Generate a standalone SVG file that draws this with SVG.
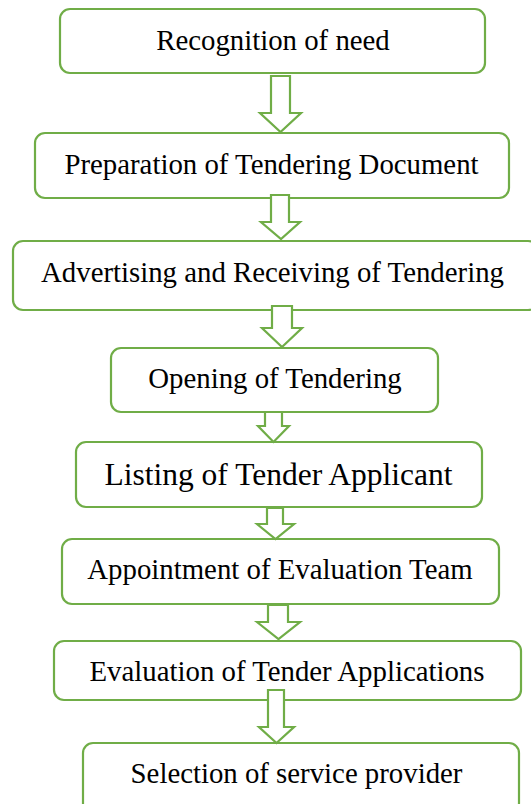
<svg xmlns="http://www.w3.org/2000/svg" width="531" height="804" viewBox="0 0 531 804">
<style>
.box{fill:#fff;stroke:#70AD47;stroke-width:2.2}
.arr{fill:#fff;stroke:#70AD47;stroke-width:2.2;stroke-linejoin:miter}
.t{font-family:'Liberation Serif',Tinos,'DejaVu Serif',serif;font-size:28.8px;fill:#000;text-anchor:middle}
.big{font-size:31.5px}
</style>
<rect width="531" height="804" fill="#fff"/>
<g id="n1"><rect class="box" x="60" y="9" width="425" height="64" rx="10"/><text class="t" x="273" y="50">Recognition of need</text></g>
<g id="n2"><rect class="box" x="35" y="133" width="474" height="65" rx="10"/><text class="t" x="271.5" y="174">Preparation of Tendering Document</text></g>
<g id="n3"><rect class="box" x="13" y="241" width="525" height="69" rx="10"/><text class="t" x="272.5" y="282">Advertising and Receiving of Tendering</text></g>
<g id="n4"><rect class="box" x="111" y="348" width="327" height="64" rx="10"/><text class="t" x="275" y="388">Opening of Tendering</text></g>
<g id="n5"><rect class="box" x="76" y="442" width="406" height="65" rx="10"/><text class="t big" x="278.5" y="485">Listing of Tender Applicant</text></g>
<g id="n6"><rect class="box" x="62" y="539" width="437" height="65" rx="10"/><text class="t" x="280" y="579">Appointment of Evaluation Team</text></g>
<g id="n7"><rect class="box" x="54" y="641" width="467" height="59" rx="10"/><text class="t" x="287" y="681">Evaluation of Tender Applications</text></g>
<g id="n8"><rect class="box" x="83" y="743" width="436" height="70" rx="10"/><text class="t" x="296.5" y="783">Selection of service provider</text></g>
<g id="connectors">
<polygon class="arr" points="271,76 290,76 290,113 301,113 280.5,132 260,113 271,113"/>
<polygon class="arr" points="271,195 289,195 289,222 300,222 281,239 261,222 271,222"/>
<polygon class="arr" points="272,306 292,306 292,328 302,328 282,347 262,328 272,328"/>
<polygon class="arr" points="265,412 282,412 282,426 289,426 273.5,442 258,426 265,426"/>
<polygon class="arr" points="267,508 283,508 283,524 294,524 275.5,539 257,524 267,524"/>
<polygon class="arr" points="268,605 288,605 288,622 300,622 278.5,639 257,622 268,622"/>
<polygon class="arr" points="268,690 284,690 284,727 294,727 276.5,743 259,727 268,727"/>
</g>
</svg>
